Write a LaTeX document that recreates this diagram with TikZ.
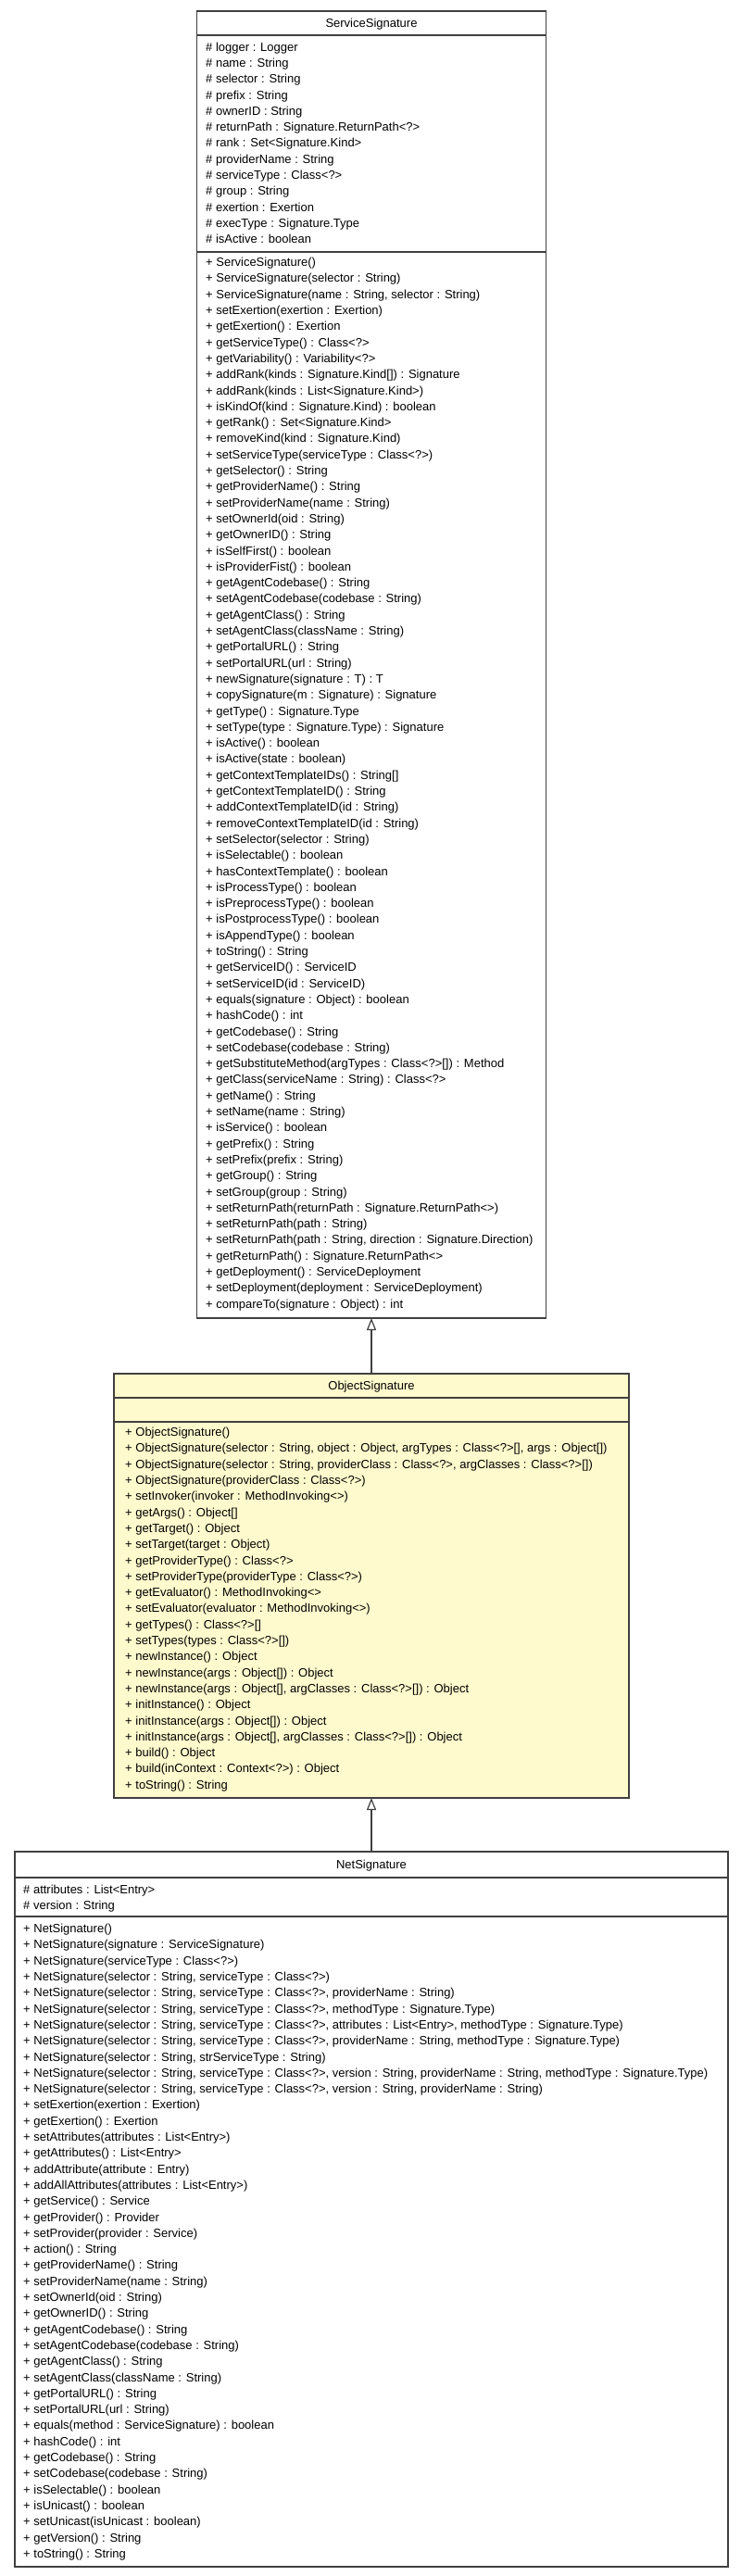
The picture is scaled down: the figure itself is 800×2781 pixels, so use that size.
\documentclass[tikz,border=0pt]{standalone}
\usepackage{fontspec}
\setmainfont{Liberation Sans}
\usetikzlibrary{arrows.meta}
\definecolor{chiffon}{HTML}{FFFACD}
\definecolor{edgegray}{HTML}{404040}
\newcommand{\rowfont}{\fontsize{13}{15}\selectfont}
\tikzset{
  classbox/.style={draw=edgegray, line width=1.2pt, inner sep=0pt, outer sep=0pt, anchor=north},
  rowtext/.style={anchor=base west, inner sep=0pt, font=\rowfont},
  titletext/.style={anchor=base, inner sep=0pt, font=\rowfont},
  sepline/.style={draw=edgegray, line width=1.2pt},
  inherit/.style={draw=edgegray, line width=1.2pt, -{Triangle[open, length=13pt, width=10pt]}}
}
\begin{document}
\begin{tikzpicture}[x=1pt, y=-1pt]
\useasboundingbox (0,0) rectangle (800,2781);
% ---------------- ServiceSignature
\node[classbox, fill=white, minimum width=377pt, minimum height=1411pt] (ss) at (401,12) {};
\node[titletext] (sst) at (401,29.6) {ServiceSignature};
\draw[sepline] (ss.west |- 0,38) -- (ss.east |- 0,38);
\draw[sepline] (ss.west |- 0,272) -- (ss.east |- 0,272);
\foreach \lab [count=\i from 0] in {
\# logger : Logger,
\# name : String,
\# selector : String,
\# prefix : String,
\# ownerID : String,
\# returnPath : Signature.ReturnPath<?>,
\# rank : Set<Signature.Kind>,
\# providerName : String,
\# serviceType : Class<?>,
\# group : String,
\# exertion : Exertion,
\# execType : Signature.Type,
\# isActive : boolean}
  \node[rowtext] (ssa\i) at (222,{55.1+\i*17.3}) {\lab};
\foreach \lab [count=\i from 0] in {
+ ServiceSignature(),
+ ServiceSignature(selector : String),
{+ ServiceSignature(name : String, selector : String)},
+ setExertion(exertion : Exertion),
+ getExertion() : Exertion,
+ getServiceType() : Class<?>,
+ getVariability() : Variability<?>,
+ addRank(kinds : Signature.Kind[]) : Signature,
+ addRank(kinds : List<Signature.Kind>),
+ isKindOf(kind : Signature.Kind) : boolean,
+ getRank() : Set<Signature.Kind>,
+ removeKind(kind : Signature.Kind),
+ setServiceType(serviceType : Class<?>),
+ getSelector() : String,
+ getProviderName() : String,
+ setProviderName(name : String),
+ setOwnerId(oid : String),
+ getOwnerID() : String,
+ isSelfFirst() : boolean,
+ isProviderFist() : boolean,
+ getAgentCodebase() : String,
+ setAgentCodebase(codebase : String),
+ getAgentClass() : String,
+ setAgentClass(className : String),
+ getPortalURL() : String,
+ setPortalURL(url : String),
+ newSignature(signature : T) : T,
+ copySignature(m : Signature) : Signature,
+ getType() : Signature.Type,
+ setType(type : Signature.Type) : Signature,
+ isActive() : boolean,
+ isActive(state : boolean),
+ getContextTemplateIDs() : String[],
+ getContextTemplateID() : String,
+ addContextTemplateID(id : String),
+ removeContextTemplateID(id : String),
+ setSelector(selector : String),
+ isSelectable() : boolean,
+ hasContextTemplate() : boolean,
+ isProcessType() : boolean,
+ isPreprocessType() : boolean,
+ isPostprocessType() : boolean,
+ isAppendType() : boolean,
+ toString() : String,
+ getServiceID() : ServiceID,
+ setServiceID(id : ServiceID),
+ equals(signature : Object) : boolean,
+ hashCode() : int,
+ getCodebase() : String,
+ setCodebase(codebase : String),
+ getSubstituteMethod(argTypes : Class<?>[]) : Method,
+ getClass(serviceName : String) : Class<?>,
+ getName() : String,
+ setName(name : String),
+ isService() : boolean,
+ getPrefix() : String,
+ setPrefix(prefix : String),
+ getGroup() : String,
+ setGroup(group : String),
+ setReturnPath(returnPath : Signature.ReturnPath<>),
+ setReturnPath(path : String),
{+ setReturnPath(path : String, direction : Signature.Direction)},
+ getReturnPath() : Signature.ReturnPath<>,
+ getDeployment() : ServiceDeployment,
+ setDeployment(deployment : ServiceDeployment),
+ compareTo(signature : Object) : int}
  \node[rowtext] (ssm\i) at (222,{287.6+\i*17.3}) {\lab};
% ---------------- ObjectSignature
\node[classbox, fill=chiffon, minimum width=556pt, minimum height=458pt] (os) at (401,1483) {};
\node[titletext] (ost) at (401,1500.4) {ObjectSignature};
\draw[sepline] (os.west |- 0,1509) -- (os.east |- 0,1509);
\draw[sepline] (os.west |- 0,1535) -- (os.east |- 0,1535);
\foreach \lab [count=\i from 0] in {
+ ObjectSignature(),
{+ ObjectSignature(selector : String, object : Object, argTypes : Class<?>[], args : Object[])},
{+ ObjectSignature(selector : String, providerClass : Class<?>, argClasses : Class<?>[])},
+ ObjectSignature(providerClass : Class<?>),
+ setInvoker(invoker : MethodInvoking<>),
+ getArgs() : Object[],
+ getTarget() : Object,
+ setTarget(target : Object),
+ getProviderType() : Class<?>,
+ setProviderType(providerType : Class<?>),
+ getEvaluator() : MethodInvoking<>,
+ setEvaluator(evaluator : MethodInvoking<>),
+ getTypes() : Class<?>[],
+ setTypes(types : Class<?>[]),
+ newInstance() : Object,
+ newInstance(args : Object[]) : Object,
{+ newInstance(args : Object[], argClasses : Class<?>[]) : Object},
+ initInstance() : Object,
+ initInstance(args : Object[]) : Object,
{+ initInstance(args : Object[], argClasses : Class<?>[]) : Object},
+ build() : Object,
+ build(inContext : Context<?>) : Object,
+ toString() : String}
  \node[rowtext] (osm\i) at (135,{1550.6+\i*17.3}) {\lab};
% ---------------- NetSignature
\node[classbox, fill=white, minimum width=770pt, minimum height=772pt] (ns) at (401,1999) {};
\node[titletext] (nst) at (401,2017.6) {NetSignature};
\draw[sepline] (ns.west |- 0,2027) -- (ns.east |- 0,2027);
\draw[sepline] (ns.west |- 0,2069) -- (ns.east |- 0,2069);
\foreach \lab [count=\i from 0] in {
\# attributes : List<Entry>,
\# version : String}
  \node[rowtext] (nsa\i) at (25,{2044.1+\i*17.3}) {\lab};
\foreach \lab [count=\i from 0] in {
+ NetSignature(),
+ NetSignature(signature : ServiceSignature),
+ NetSignature(serviceType : Class<?>),
{+ NetSignature(selector : String, serviceType : Class<?>)},
{+ NetSignature(selector : String, serviceType : Class<?>, providerName : String)},
{+ NetSignature(selector : String, serviceType : Class<?>, methodType : Signature.Type)},
{+ NetSignature(selector : String, serviceType : Class<?>, attributes : List<Entry>, methodType : Signature.Type)},
{+ NetSignature(selector : String, serviceType : Class<?>, providerName : String, methodType : Signature.Type)},
{+ NetSignature(selector : String, strServiceType : String)},
{+ NetSignature(selector : String, serviceType : Class<?>, version : String, providerName : String, methodType : Signature.Type)},
{+ NetSignature(selector : String, serviceType : Class<?>, version : String, providerName : String)},
+ setExertion(exertion : Exertion),
+ getExertion() : Exertion,
+ setAttributes(attributes : List<Entry>),
+ getAttributes() : List<Entry>,
+ addAttribute(attribute : Entry),
+ addAllAttributes(attributes : List<Entry>),
+ getService() : Service,
+ getProvider() : Provider,
+ setProvider(provider : Service),
+ action() : String,
+ getProviderName() : String,
+ setProviderName(name : String),
+ setOwnerId(oid : String),
+ getOwnerID() : String,
+ getAgentCodebase() : String,
+ setAgentCodebase(codebase : String),
+ getAgentClass() : String,
+ setAgentClass(className : String),
+ getPortalURL() : String,
+ setPortalURL(url : String),
+ equals(method : ServiceSignature) : boolean,
+ hashCode() : int,
+ getCodebase() : String,
+ setCodebase(codebase : String),
+ isSelectable() : boolean,
+ isUnicast() : boolean,
+ setUnicast(isUnicast : boolean),
+ getVersion() : String,
+ toString() : String}
  \node[rowtext] (nsm\i) at (25,{2086.6+\i*17.3}) {\lab};
% ---------------- generalizations
\draw[inherit] (os.north) -- (ss.south);
\draw[inherit] (ns.north) -- (os.south);
\end{tikzpicture}
\end{document}
